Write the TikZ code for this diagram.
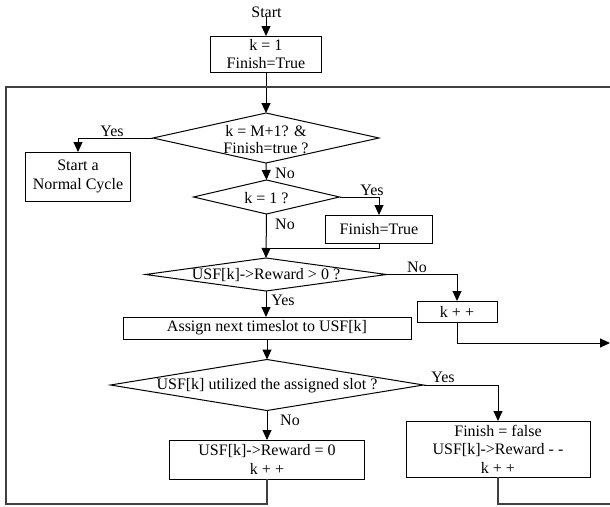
\documentclass[tikz,border=0pt]{standalone}
\usepackage{fontspec}
\setmainfont{Liberation Serif}
\usetikzlibrary{arrows.meta,shapes.geometric}
\begin{document}
\begin{tikzpicture}[x=1pt,y=-1pt,
  every node/.style={font=\fontsize{16pt}{18.5pt}\selectfont, inner sep=0pt, outer sep=0pt},
  box/.style={draw, line width=1pt, rectangle, align=center},
  dia/.style={draw, line width=1pt, diamond},
  conn/.style={line width=1pt, -{Triangle[length=10pt,width=9pt]}},
  plainline/.style={line width=1pt},
  loopline/.style={line width=1.3pt, black!75}]
\useasboundingbox (0,0) rectangle (610,506);

% nodes
\node (start) at (266.5,12) {Start};
\node[box, minimum width=111pt, minimum height=36pt] (k1) at (266,54) {k = 1\\Finish=True};

\node[dia, minimum width=226pt, minimum height=50pt] (d1) at (266,138) {};
\node[align=center] (d1t) at (266,140) {k = M+1? \&\\[-1.5pt]Finish=true ?};

\node[box, minimum width=105pt, minimum height=49pt] (sbox) at (78,176.5) {Start a\\Normal Cycle};

\node[dia, minimum width=146pt, minimum height=34pt] (d2) at (266.5,197) {};
\node (d2t) at (266.5,198) {k = 1 ?};

\node[box, minimum width=107pt, minimum height=28pt] (fbox) at (379,229) {Finish=True};

\node[dia, minimum width=241pt, minimum height=33pt] (dR) at (266,274.5) {};
\node (dRt) at (266,275) {USF[k]->Reward > 0 ?};

\node[box, minimum width=80pt, minimum height=21pt] (kbox) at (457,311.5) {k + +};

\node[box, minimum width=288pt, minimum height=22pt] (assign) at (267,328) {Assign next timeslot to USF[k]};

\node[dia, minimum width=313pt, minimum height=51pt] (d4) at (267,385) {};
\node (d4t) at (267,386) {USF[k] utilized the assigned slot ?};

\node[box, minimum width=184pt, minimum height=56pt] (ffalse) at (498,449) {Finish = false\\USF[k]->Reward - -\\k + +};

\node[box, minimum width=195pt, minimum height=39pt] (rbox) at (267,459.5) {USF[k]->Reward = 0\\k + +};

% labels
\node (y1) at (112,131) {Yes};
\node (n1) at (285,173) {No};
\node (y2) at (372,190) {Yes};
\node (n2) at (285,224) {No};
\node (n3) at (417,267) {No};
\node (y3) at (283,300) {Yes};
\node (y4) at (443,377) {Yes};
\node (n4) at (290,420) {No};

% free ends
\coordinate (m1) at (266.5,248);
\coordinate (r1) at (610,343);
\coordinate (c1) at (6,504);
\coordinate (c2) at (6,87);
\coordinate (c3) at (610,87);
\coordinate (c4) at (610,504);

% connectors
\draw[conn] (start.south) -- (k1.south |- start.south) -- (k1.north);
\draw[conn] (k1.south) -- (d1.north);
\draw[conn] (d1.west) -| (sbox.north);
\draw[conn] (d1.south) -- (d2.north);
\draw[conn] (d2.east) -| (fbox.north);
\draw[conn] (d2.south) -- (dR.north);
\draw[plainline] (fbox.south) |- (m1);
\draw[conn] (dR.east) -| (kbox.north);
\draw[conn] (dR.south) -- (assign.north -| dR.south);
\draw[conn] (kbox.south) |- (r1);
\draw[conn] (assign.south) -- (d4.north);
\draw[conn] (d4.east) -| (ffalse.north);
\draw[conn] (d4.south) -- (rbox.north);
\draw[loopline] (rbox.south) |- (c1) -- (c2) -- (c3);
\draw[loopline] (ffalse.south) |- (c4);
\end{tikzpicture}
\end{document}
